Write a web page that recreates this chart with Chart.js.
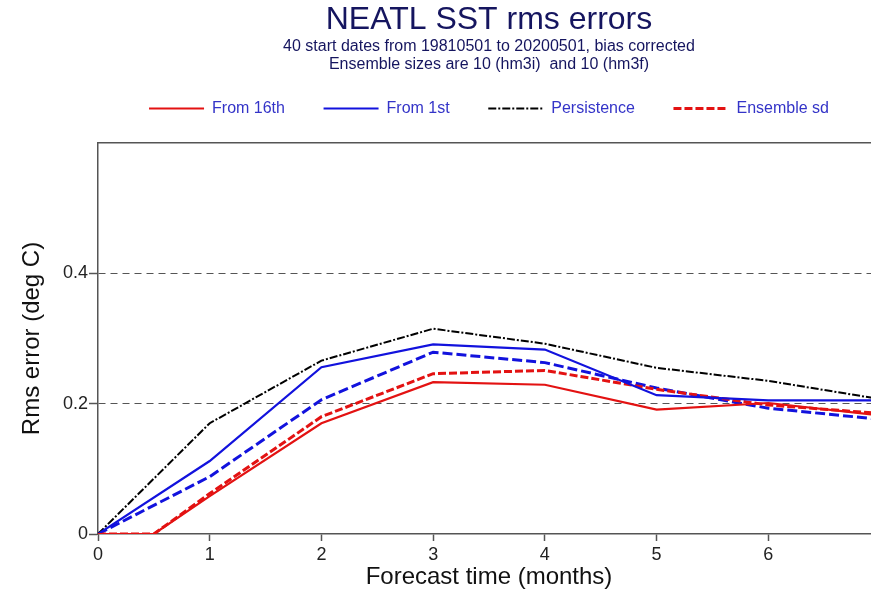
<!DOCTYPE html>
<html>
<head>
<meta charset="utf-8">
<script src="https://cdn.jsdelivr.net/npm/chart.js@4/dist/chart.umd.min.js"></script>
<style>
  html, body { margin: 0; padding: 0; overflow: hidden; background: #ffffff; }
  #wrap { width: 900px; height: 590px; }
</style>
</head>
<body>
<div id="wrap"><canvas id="c" width="900" height="590"></canvas></div>
<script>
// ---- data ----
const months = [0, 1, 2, 3, 4, 5, 6, 7];
const monthsFrom16th = [0, 0.5, 1, 2, 3, 4, 5, 6, 7];
const from16th = [0, 0, 0.058, 0.170, 0.233, 0.229, 0.191, 0.201, 0.182];
const ensSd16th = [0, 0, 0.062, 0.180, 0.246, 0.251, 0.222, 0.198, 0.185];
const from1st = [0, 0.112, 0.256, 0.291, 0.283, 0.213, 0.205, 0.205];
const ensSd1st = [0, 0.088, 0.206, 0.279, 0.263, 0.224, 0.193, 0.176];
const persistence = [0, 0.170, 0.266, 0.315, 0.292, 0.255, 0.235, 0.207];
const yTickValues = [0, 0.2, 0.4];
const xTickLabels = ['0', '1', '2', '3', '4', '5', '6'];
const seriesLabels = ['From 16th', 'From 1st', 'Persistence', 'Ensemble sd', 'Ensemble sd (1st)'];
const titleText = 'NEATL SST rms errors';
const subtitleLines = ['40 start dates from 19810501 to 20200501, bias corrected', 'Ensemble sizes are 10 (hm3i)  and 10 (hm3f)'];
const xTitle = 'Forecast time (months)';
const yTitle = 'Rms error (deg C)';

const pts = (xs, ys) => ys.map((v, i) => ({ x: xs[i], y: v }));

const RED = '#e31212';
const BLUE = '#1212dd';
const FONT = "'Liberation Sans', Arial, Helvetica, sans-serif";
const AXIS = '#555555';

const ds = (label, xs, ys, color, width, dash) => ({
  label, data: pts(xs, ys), borderColor: color, backgroundColor: color,
  borderWidth: width, borderDash: dash, pointRadius: 0, pointHoverRadius: 0,
  tension: 0, fill: false, pointStyle: 'line'
});

new Chart(document.getElementById('c'), {
  type: 'line',
  data: {
    datasets: [
      ds(seriesLabels[0], monthsFrom16th, from16th, RED, 2.2, []),
      ds(seriesLabels[1], months, from1st, BLUE, 2.2, []),
      ds(seriesLabels[2], months, persistence, '#000000', 2, [8, 2, 2, 2]),
      ds(seriesLabels[3], monthsFrom16th, ensSd16th, RED, 3, [8, 3]),
      ds(seriesLabels[4], months, ensSd1st, BLUE, 3, [10, 4])
    ]
  },
  options: {
    responsive: false,
    devicePixelRatio: 1,
    animation: false,
    events: [],
    layout: { padding: { left: 0, right: 20, top: 0, bottom: 0 } },
    plugins: {
      title: {
        display: true, text: titleText, fullSize: false, color: '#15155f',
        font: { family: FONT, size: 32, weight: 'normal', lineHeight: 1.1 },
        padding: { top: 3, bottom: 0 }
      },
      subtitle: {
        display: true, text: subtitleLines, fullSize: false, color: '#15155f',
        font: { family: FONT, size: 16, weight: 'normal', lineHeight: '18px' },
        padding: { top: -1, bottom: -11.3 }
      },
      legend: {
        display: true, fullSize: false, position: 'top', align: 'center',
        labels: {
          usePointStyle: true, pointStyle: 'line', pointStyleWidth: 55,
          padding: 38.6, color: '#3434c8',
          font: { family: FONT, size: 16 },
          filter: (item) => item.datasetIndex < 4,
          generateLabels: (chart) => {
            const items = Chart.defaults.plugins.legend.labels.generateLabels(chart);
            return items.map((it) => {
              const d = chart.data.datasets[it.datasetIndex];
              it.lineDash = d.borderDash;
              it.lineWidth = d.borderWidth;
              it.strokeStyle = d.borderColor;
              it.fillStyle = d.borderColor;
              it.pointStyle = 'line';
              return it;
            });
          }
        }
      },
      tooltip: { enabled: false }
    },
    scales: {
      x: {
        type: 'linear', position: 'bottom', min: 0, max: 7,
        afterFit: (s) => { s.height = 56; },
        ticks: {
          stepSize: 1, padding: 3, color: '#222222',
          font: { family: FONT, size: 18 },
          callback: (v) => (xTickLabels[v] !== undefined ? xTickLabels[v] : '')
        },
        grid: { drawOnChartArea: false, drawTicks: true, tickLength: 7, tickColor: AXIS, tickWidth: 1.5, color: 'rgba(0,0,0,0)' },
        border: { display: true, color: AXIS, width: 1.5 },
        title: { display: true, text: xTitle, color: '#111111', font: { family: FONT, size: 24 }, padding: { top: 0, bottom: -2 } }
      },
      x2: {
        type: 'linear', position: 'top', min: 0, max: 7,
        afterFit: (s) => { s.height = 16.5; },
        ticks: { display: false },
        grid: { display: false, drawTicks: false },
        border: { display: true, color: AXIS, width: 1.5 }
      },
      y: {
        type: 'linear', position: 'left', min: 0, max: 0.6,
        afterFit: (s) => { s.width = 98; },
        afterBuildTicks: (s) => { s.ticks = yTickValues.map(v => ({ value: v })); },
        ticks: {
          padding: 1, color: '#222222', font: { family: FONT, size: 18 },
          callback: (v) => (v === 0 ? '0' : v.toFixed(1))
        },
        grid: {
          drawOnChartArea: true, drawTicks: true, tickLength: 9,
          color: (ctx) => (ctx.tick && ctx.tick.value > 0 ? '#555555' : 'rgba(0,0,0,0)'),
          lineWidth: 1,
          tickColor: AXIS, tickWidth: 1.5, tickBorderDash: []
        },
        border: { display: true, color: AXIS, width: 1.5, dash: [7, 5] },
        title: { display: true, text: yTitle, color: '#111111', font: { family: FONT, size: 24 }, padding: { top: 18, bottom: 0 } }
      }
    }
  }
});
</script>
</body>
</html>
